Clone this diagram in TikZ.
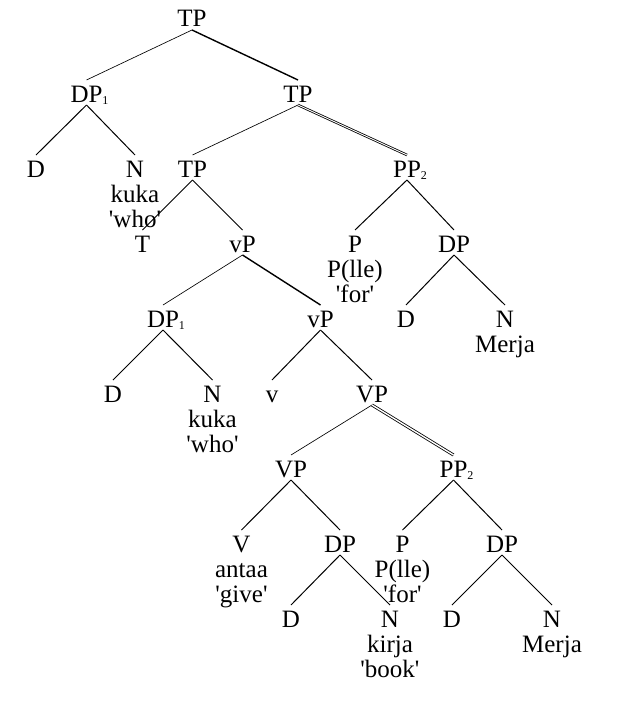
\documentclass[tikz,border=0pt]{standalone}
\usepackage{fontspec}
\setmainfont{Liberation Serif}[Ligatures=TeXOff]
\begin{document}
\begin{tikzpicture}[x=1pt,y=-1pt,
  cat/.style={inner sep=0pt,outer sep=0pt,text height=22pt,text depth=3pt,anchor=base,
              font=\fontsize{25}{25}\selectfont},
  word/.style={inner sep=0pt,anchor=base,font=\fontsize{25}{25}\selectfont},
  br/.style={line width=1pt},
  thinbr/.style={line width=0.65pt},
  thickbr/.style={line width=1.4pt},
  movebr/.style={double,line width=0.8pt,double distance=0.9pt}
]
\newcommand{\idx}[1]{\rlap{\raisebox{-2pt}{\fontsize{12}{12}\selectfont #1}}}
\useasboundingbox (0,0) rectangle (636,720);

% categories, row by row (baselines 75pt apart)
\node[cat] (tp0)  at (192,27)    {TP};
\node[cat] (dpa)  at (86.5,102)  {DP\idx{1}};
\node[cat] (tp1)  at (298,102)   {TP};
\node[cat] (da)   at (36,177)    {D};
\node[cat] (na)   at (135,177)   {N};
\node[cat] (tp2)  at (192.5,177) {TP};
\node[cat] (ppa)  at (407,177)   {PP\idx{2}};
\node[cat] (t)    at (142.5,252) {T};
\node[cat] (vpa)  at (242.5,252) {vP};
\node[cat] (pa)   at (355,252)   {P};
\node[cat] (dpb)  at (454,252)   {DP};
\node[cat] (dpc)  at (163,327)   {DP\idx{1}};
\node[cat] (vpb)  at (320.5,327) {vP};
\node[cat] (db)   at (406,327)   {D};
\node[cat] (nb)   at (505,327)   {N};
\node[cat] (dc)   at (113,402)   {D};
\node[cat] (nc)   at (212.5,402) {N};
\node[cat] (lv)   at (272,402)   {v};
\node[cat] (VPa)  at (372,402)   {VP};
\node[cat] (VPb)  at (291,477)   {VP};
\node[cat] (ppb)  at (453.5,477) {PP\idx{2}};
\node[cat] (V)    at (241.5,552) {V};
\node[cat] (dpd)  at (340,552)   {DP};
\node[cat] (pb)   at (402.5,552) {P};
\node[cat] (dpe)  at (502,552)   {DP};
\node[cat] (dd)   at (291,627)   {D};
\node[cat] (nd)   at (390,627)   {N};
\node[cat] (de)   at (452,627)   {D};
\node[cat] (ne)   at (552,627)   {N};

% lexical material under the heads
\node[word] (kukaa) at (135,202)   {kuka};
\node[word] (whoa)  at (135,227)   {'who'};
\node[word] (llea)  at (355,277)   {P(lle)};
\node[word] (fora)  at (355,302)   {'for'};
\node[word] (merja) at (505,352)   {Merja};
\node[word] (kukab) at (212.5,427) {kuka};
\node[word] (whob)  at (212.5,452) {'who'};
\node[word] (antaa) at (241.5,577) {antaa};
\node[word] (give)  at (241.5,602) {'give'};
\node[word] (lleb)  at (402.5,577) {P(lle)};
\node[word] (forb)  at (402.5,602) {'for'};
\node[word] (kirja) at (390,652)   {kirja};
\node[word] (book)  at (390,677)   {'book'};
\node[word] (merjb) at (552,652)   {Merja};

% branches
\draw[thinbr]  (tp0.south) -- (dpa.north);
\draw[thickbr] (tp0.south) -- (tp1.north);
\draw[br] (dpa.south) -- (da.north);
\draw[br] (dpa.south) -- (na.north);
\draw[thinbr]  (tp1.south) -- (tp2.north);
\draw[movebr]  (tp1.south) -- (ppa.north);
\draw[br] (tp2.south) -- (t.north);
\draw[br] (tp2.south) -- (vpa.north);
\draw[br] (ppa.south) -- (pa.north);
\draw[br] (ppa.south) -- (dpb.north);
\draw[thinbr]  (vpa.south) -- (dpc.north);
\draw[thickbr] (vpa.south) -- (vpb.north);
\draw[br] (dpb.south) -- (db.north);
\draw[br] (dpb.south) -- (nb.north);
\draw[br] (dpc.south) -- (dc.north);
\draw[br] (dpc.south) -- (nc.north);
\draw[br] (vpb.south) -- (lv.north);
\draw[br] (vpb.south) -- (VPa.north);
\draw[thinbr]  (VPa.south) -- (VPb.north);
\draw[movebr,double distance=1.4pt] (VPa.south) -- (ppb.north);
\draw[br] (VPb.south) -- (V.north);
\draw[br] (VPb.south) -- (dpd.north);
\draw[br] (ppb.south) -- (pb.north);
\draw[br] (ppb.south) -- (dpe.north);
\draw[br] (dpd.south) -- (dd.north);
\draw[br] (dpd.south) -- (nd.north);
\draw[br] (dpe.south) -- (de.north);
\draw[br] (dpe.south) -- (ne.north);
\end{tikzpicture}
\end{document}
